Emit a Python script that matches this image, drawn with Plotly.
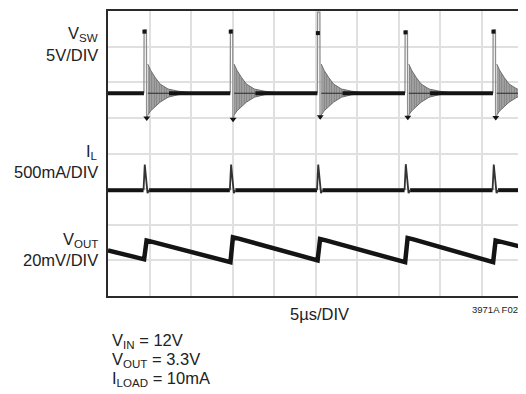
import plotly.graph_objects as go

# time of each switching burst (us)
switch_us = [4.35, 14.75, 25.25, 35.8, 46.4]

# VSW channel, in screen divisions from the bottom of the graticule
vsw_base = 5.69
vsw_peak = [7.47, 7.47, 7.97, 7.44, 7.47]
vsw_dot = [7.42, 7.42, 7.38, 7.40, 7.42]
vsw_low = [4.94, 4.90, 4.97, 4.96, 4.95]
ring_dt = [0.44, 0.8, 1.32, 1.92, 2.88, 4.09, 5.4]
ring_top = [6.51, 6.33, 6.14, 5.95, 5.81, 5.75, 5.71]
ring_bot = [5.08, 5.20, 5.31, 5.44, 5.58, 5.65, 5.68]

# IL channel
il_base = 2.97
il_peak = [3.69, 3.69, 3.69, 3.70, 3.69]
il_dt = [-0.07, 0.08, 0.41, 0.6]

# VOUT channel
vout_start = 1.28
vout_low = [1.03, 0.95, 1.00, 0.95, 0.95]
vout_high = [1.56, 1.65, 1.60, 1.63, 1.56]
vout_end = 1.37

FONT = "Liberation Sans, Arial, sans-serif"
INK = "#141414"

fig = go.Figure()

# ringing envelopes of the switch node
for t0 in switch_us:
    xs = [t0 + d for d in ring_dt] + [t0 + d for d in reversed(ring_dt)]
    ys = ring_top + list(reversed(ring_bot))
    fig.add_trace(go.Scatter(
        x=xs, y=ys, mode="lines", fill="toself",
        line=dict(color="#6e6e6e", width=1),
        fillpattern=dict(shape="|", fgcolor="#5a5a5a", bgcolor="#a4a4a4",
                         size=2.5, solidity=0.4),
        hoverinfo="skip", showlegend=False,
    ))
    fig.add_trace(go.Scatter(
        x=[t0 + ring_dt[0], t0 + 3.0], y=[vsw_base, vsw_base], mode="lines",
        line=dict(color="#3a3a3a", width=1.2), hoverinfo="skip", showlegend=False,
    ))

# VSW spikes (fast edges show up faint)
for t0, pk, lo in zip(switch_us, vsw_peak, vsw_low):
    fig.add_trace(go.Scatter(
        x=[t0 - 0.02, t0, t0 + 0.28, t0 + 0.3, t0 + ring_dt[0]],
        y=[vsw_base, pk, pk, lo, ring_bot[0]],
        mode="lines", line=dict(color="#8f8f8f", width=1.3),
        hoverinfo="skip", showlegend=False,
    ))
fig.add_trace(go.Scatter(
    x=[t + 0.04 for t in switch_us], y=vsw_dot, mode="markers",
    marker=dict(color=INK, size=4, symbol="square"),
    hoverinfo="skip", showlegend=False,
))
fig.add_trace(go.Scatter(
    x=[t + 0.32 for t in switch_us], y=[v + 0.06 for v in vsw_low], mode="markers",
    marker=dict(color=INK, size=6, symbol="triangle-down"),
    hoverinfo="skip", showlegend=False,
))

# VSW flat baseline between bursts
bx, by = [0], [vsw_base]
for t0 in switch_us:
    bx += [t0 - 0.02, None, t0 + 3.0]
    by += [vsw_base, None, vsw_base]
bx.append(50)
by.append(vsw_base)
fig.add_trace(go.Scatter(x=bx, y=by, mode="lines", line=dict(color=INK, width=4),
                         hoverinfo="skip", showlegend=False))

# IL
ix, iy = [0], [il_base]
for t0 in switch_us:
    ix += [t0 + il_dt[0], None, t0 + il_dt[3]]
    iy += [il_base, None, il_base]
ix.append(50)
iy.append(il_base)
fig.add_trace(go.Scatter(x=ix, y=iy, mode="lines", line=dict(color=INK, width=4),
                         hoverinfo="skip", showlegend=False))
for t0, pk in zip(switch_us, il_peak):
    fig.add_trace(go.Scatter(
        x=[t0 + d for d in il_dt], y=[il_base, pk, il_base - 0.08, il_base],
        mode="lines", line=dict(color="#333333", width=1.8),
        hoverinfo="skip", showlegend=False,
    ))

# VOUT sawtooth
vx, vy = [0], [vout_start]
for t0, lo, hi in zip(switch_us, vout_low, vout_high):
    vx += [t0, t0 + 0.3, t0 + 1.0]
    vy += [lo, hi, hi - 0.04]
vx.append(50)
vy.append(vout_end)
fig.add_trace(go.Scatter(x=vx, y=vy, mode="lines", line=dict(color=INK, width=4.5),
                         hoverinfo="skip", showlegend=False))


# label positions given in window pixels, plot area spans x 108..524, y 9..296
def px_x(p):
    return (p - 108) / 416


def px_y(p):
    return (296 - p) / 287


labels = [
    ("V<sub>SW</sub>", 100, 32, "right", 16.5),
    ("5V/DIV", 100, 53, "right", 16.5),
    ("I<sub>L</sub>", 100, 151, "right", 16.5),
    ("500mA/DIV", 100, 171, "right", 16.5),
    ("V<sub>OUT</sub>", 100, 240, "right", 16.5),
    ("20mV/DIV", 100, 260, "right", 16.5),
    ("5µs/DIV", 288, 314, "left", 16.5),
    ("3971A F02", 521, 310, "right", 9.5),
    ("V<sub>IN</sub> = 12V", 110, 341, "left", 16.5),
    ("V<sub>OUT</sub> = 3.3V", 110, 360, "left", 16.5),
    ("I<sub>LOAD</sub> = 10mA", 110, 380, "left", 16.5),
]
for txt, x, y, anchor, size in labels:
    fig.add_annotation(text=txt, x=px_x(x), y=px_y(y), xref="paper", yref="paper",
                       xanchor=anchor, yanchor="middle", showarrow=False,
                       font=dict(family=FONT, size=size, color="#222222"))

fig.update_xaxes(range=[0, 50], dtick=5, showgrid=True, gridcolor="#e0e0e0", gridwidth=2,
                 showticklabels=False, ticks="", zeroline=False,
                 showline=True, linecolor="#2a2a2a", linewidth=2, mirror=True)
fig.update_yaxes(range=[0, 8], dtick=1, showgrid=True, gridcolor="#e0e0e0", gridwidth=2,
                 showticklabels=False, ticks="", zeroline=False,
                 showline=True, linecolor="#2a2a2a", linewidth=2, mirror=True)

# the page body adds an 8px offset, so the figure covers the window from (8, 8)
fig.update_layout(
    width=518, height=386,
    margin=dict(l=100, r=2, t=1, b=98),
    plot_bgcolor="white", paper_bgcolor="white",
    showlegend=False,
)

fig.write_html("out.html")
